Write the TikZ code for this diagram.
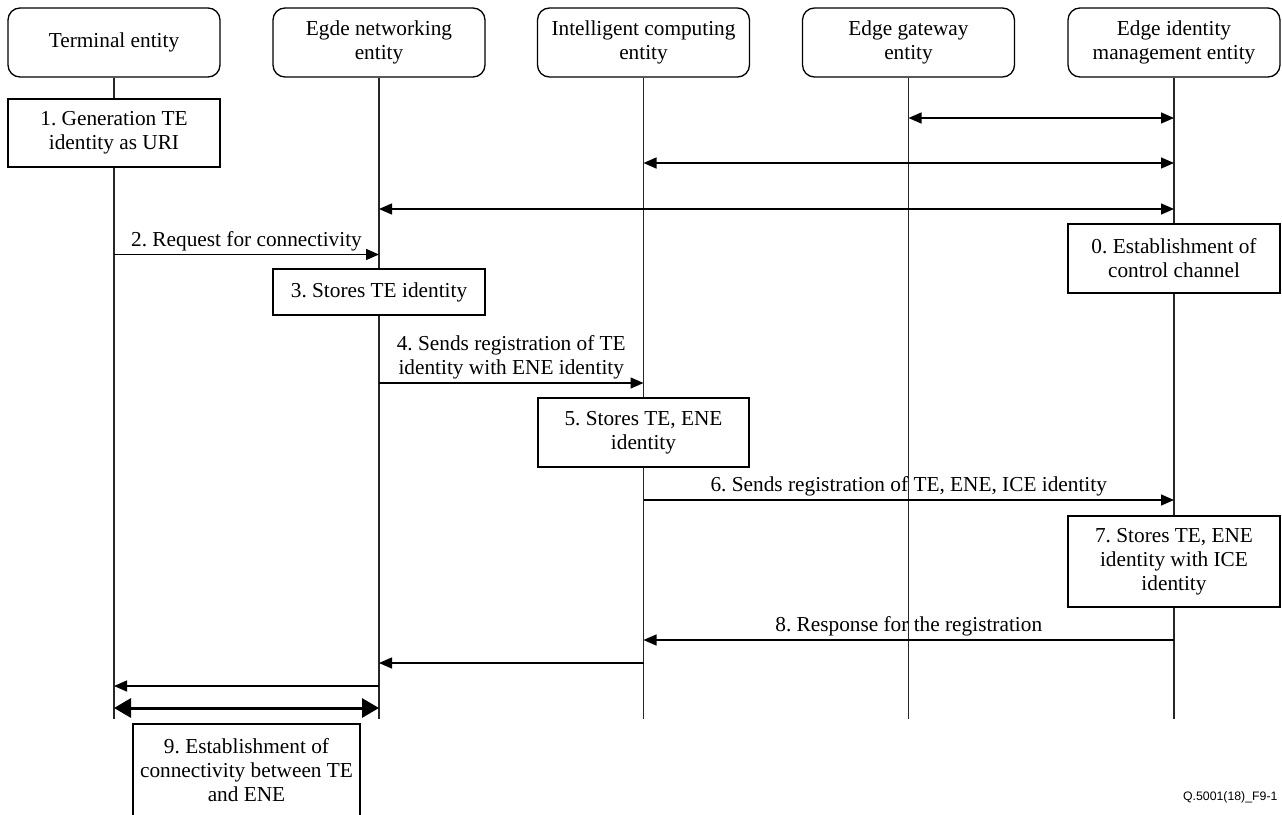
\documentclass[tikz,border=0pt]{standalone}
\usepackage{fontspec}
\setmainfont{Liberation Serif}
\newfontfamily\tagfont{Liberation Sans}
\usetikzlibrary{positioning, arrows.meta}
\frenchspacing

\begin{document}
\begin{tikzpicture}[x=1pt, y=-1pt, font=\fontsize{21.3}{24}\selectfont,
    entity/.style={draw, rounded corners=12pt, line width=1.3pt, minimum width=212pt, minimum height=69pt, align=center, inner sep=0pt},
    stepbox/.style={draw, line width=1.3pt, fill=white, minimum width=212pt, align=center, inner sep=0pt},
    lifeline/.style={line width=1.2pt, black!85},
    msg/.style={line width=1.4pt, -{Triangle[length=13pt, width=11pt]}},
    dmsg/.style={line width=1.4pt, {Triangle[length=13pt, width=11pt]}-{Triangle[length=13pt, width=11pt]}},
    bigmsg/.style={line width=3pt, {Triangle[length=17pt, width=19pt]}-{Triangle[length=17pt, width=19pt]}},
    msglabel/.style={midway, above, inner sep=3pt, align=center},
  ]
  \useasboundingbox (0,0) rectangle (1282,814);

  % entities
  \node[entity] (te)   at (114,42.5)   {Terminal entity};
  \node[entity] (ene)  at (379,42.5)   {Egde networking\\entity};
  \node[entity] (ice)  at (643.5,42.5) {Intelligent computing\\entity};
  \node[entity] (ege)  at (908.5,42.5) {Edge gateway\\entity};
  \node[entity] (eime) at (1174,42.5)  {Edge identity\\management entity};

  % lifelines
  \coordinate (bottom) at (0,719);
  \foreach \e in {te, ene, ice, ege, eime}
    \draw[lifeline] (\e.south) -- (\e |- bottom);

  % message rows
  \coordinate (yA) at (0,118);
  \coordinate (yB) at (0,163);
  \coordinate (yC) at (0,209);
  \coordinate (y2) at (0,254.5);
  \coordinate (y4) at (0,383);
  \coordinate (y6) at (0,500);
  \coordinate (y8) at (0,640);
  \coordinate (y8b) at (0,663);
  \coordinate (y8c) at (0,686);
  \coordinate (y9) at (0,708);

  % step boxes
  \node[stepbox, minimum height=68pt] (s1) at (114,133)   {1. Generation TE\\identity as URI};
  \node[stepbox, minimum height=69pt] (s0) at (1174,258.5) {0. Establishment of\\control channel};
  \node[stepbox, minimum height=46pt] (s3) at (379,292)   {3. Stores TE identity};
  \node[stepbox, minimum height=69pt, minimum width=211pt] (s5) at (643.5,432.5) {5. Stores TE, ENE\\identity};
  \node[stepbox, minimum height=91pt] (s7) at (1174,561.5) {7. Stores TE, ENE\\identity with ICE\\identity};
  \node[stepbox, minimum height=92pt, minimum width=227pt] (s9) at (246.5,770) {9. Establishment of\\connectivity between TE\\and ENE};

  % control channel set-up
  \draw[dmsg] (ege |- yA) -- (eime |- yA);
  \draw[dmsg] (ice |- yB) -- (eime |- yB);
  \draw[dmsg] (ene |- yC) -- (eime |- yC);

  % registration
  \draw[msg] (te |- y2) -- (ene |- y2) node[msglabel] {2. Request for connectivity};
  \draw[msg] (ene |- y4) -- (ice |- y4) node[msglabel] {4. Sends registration of TE\\identity with ENE identity};
  \draw[msg] (ice |- y6) -- (eime |- y6) node[msglabel] {6. Sends registration of TE, ENE, ICE identity};
  \draw[msg] (eime |- y8) -- (ice |- y8) node[msglabel] {8. Response for the registration};
  \draw[msg] (ice |- y8b) -- (ene |- y8b);
  \draw[msg] (ene |- y8c) -- (te |- y8c);
  \draw[bigmsg] (te |- y9) -- (ene |- y9);

  \node[anchor=east, font=\tagfont\fontsize{12.3}{14}\selectfont] (tag) at (1281,797) {Q.5001(18)\_F9-1};
\end{tikzpicture}
\end{document}
